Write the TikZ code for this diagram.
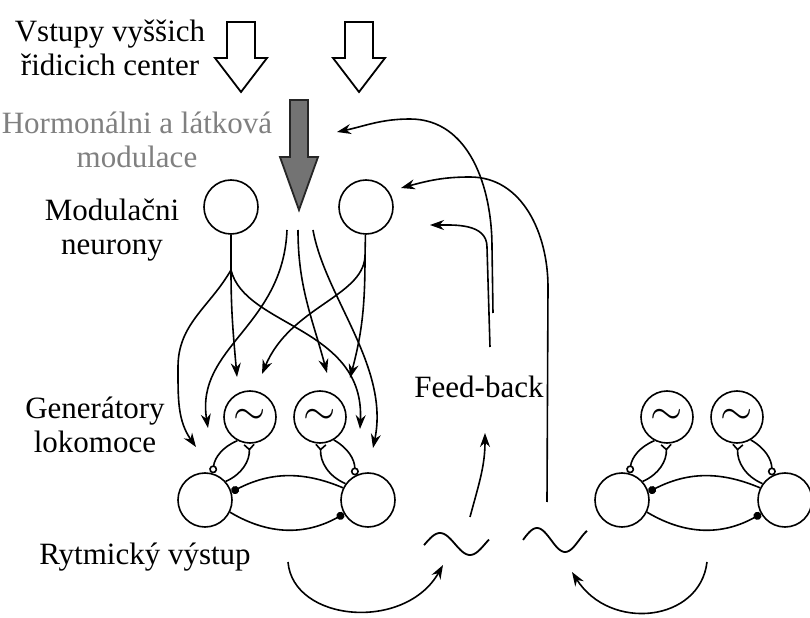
\documentclass[tikz,border=0pt]{standalone}
\usepackage{fontspec}
\setmainfont{Liberation Serif}
\usetikzlibrary{arrows.meta,positioning}

\begin{document}
\begin{tikzpicture}[
    x=0.5pt, y=0.5pt,
    every node/.style={font=\fontsize{15.5}{17}\selectfont},
    txt/.style={align=center, inner sep=0pt},
    neuron/.style={circle, draw, line width=0.8pt, minimum size=27pt, inner sep=0pt},
    osc/.style={circle, draw, line width=0.8pt, minimum size=26pt, inner sep=0pt,
      font=\fontsize{20}{20}\selectfont},
    input/.style={draw, line width=0.9pt, fill=white},
    hormone/.style={draw=black!85, line width=0.9pt, fill=black!55},
    arrow/.style={-{Stealth[length=7pt,width=5pt]}, line width=0.8pt},
    link/.style={line width=0.8pt},
    excit/.style={link, -{Straight Barb[reversed,length=2.5pt,width=5pt]}},
    inhib/.style={link, -{Circle[open,length=4pt]}},
    block/.style={link, -{Circle[length=4pt]}},
    wave/.style={line width=0.9pt, samples=40, smooth}
]
\useasboundingbox[fill=white] (0,0) rectangle (810,617);

% Labels
\node[txt] (inputs) at (110,569) {Vstupy vyššich\\řidicich center};
\node[txt, text=black!50] (hormones) at (137,477) {Hormonálni a látková\\modulace};
\node[txt] (modlabel) at (112,387) {Modulačni\\neurony};
\node[txt] (genlabel) at (95,192) {Generátory\\lokomoce};
\node[txt] (outlabel) at (145,60) {Rytmický výstup};
\node[txt] (fb) at (479,230) {Feed-back};

% Inputs from higher centres
\foreach \cx in {241,359}
  \draw[input] (\cx-14,595) -- (\cx+14,595) -- (\cx+14,559) -- (\cx+26,559)
    -- (\cx,525) -- (\cx-26,559) -- (\cx-14,559) -- cycle;

% Hormonal modulation
\draw[hormone] (290,517) -- (308,517) -- (308,460) -- (318,460) -- (299,407)
  -- (280,460) -- (290,460) -- cycle;

% Modulatory neurons
\node[neuron] (modL) at (231,410) {};
\node[neuron] (modR) at (366,410) {};

% Generators
\foreach \dx/\g in {0/A, 417/B} {
  \begin{scope}[shift={(\dx,0)}]
    \node[osc] (osc\g1) at (250,200) {$\sim$};
    \node[osc] (osc\g2) at (320,200) {$\sim$};
    \node[neuron] (cell\g1) at (205,117) {};
    \node[neuron] (cell\g2) at (368,117) {};
    \draw[inhib] (osc\g1.242) to[bend right=30] (cell\g1.74);
    \draw[excit] (cell\g1.42) to[bend right=35] (osc\g1.268);
    \draw[excit] (cell\g2.144) to[bend left=35] (osc\g2.272);
    \draw[inhib] (osc\g2.301) to[bend left=30] (cell\g2.118);
    \draw[block] (cell\g2.154) to[bend right=25] (cell\g1.17);
    \draw[block] (cell\g1.334) to[bend right=30] (cell\g2.210);
  \end{scope}
}

% Modulation pathways
\coordinate (stemL) at (231,347);
\coordinate (stemR) at (365,360);
\coordinate (g1) at (287,387);
\coordinate (g2) at (298,387);
\coordinate (g3) at (313,387);
\coordinate (endLa) at (196,170);
\coordinate (endLb) at (208,189);
\coordinate (endLc) at (237,240);
\coordinate (endLd) at (262,243);
\coordinate (endRd) at (327,244);
\coordinate (endRc) at (350,239);
\coordinate (endRb) at (360,188);
\coordinate (endRa) at (373,169);

\draw[link] (modL) -- (stemL);
\draw[link] (modR) -- (stemR);
\draw[arrow] (stemL) to[out=-90,in=95] (endLc);
\draw[arrow] (stemL) to[out=240,in=90] (178,250) to[out=-90,in=125] (endLa);
\draw[arrow] (stemL) .. controls (245,290) and (365,290) .. (endRb);
\draw[arrow] (stemR) .. controls (362,320) and (290,310) .. (endLd);
\draw[arrow] (stemR) to[out=-90,in=75] (endRc);
\draw[arrow] (g1) .. controls (283,290) and (195,270) .. (endLb);
\draw[arrow] (g2) to[out=-90,in=105] (endRd);
\draw[arrow] (g3) .. controls (325,320) and (390,250) .. (endRa);

% Rhythmic output
\draw[wave] plot[domain=424:489] (\x, {73+11*cos(6*(\x-440))});
\draw[wave] plot[domain=523:587] (\x, {77+12*cos(6.4*(\x-537))});

\coordinate (outA) at (288,55);
\coordinate (outB) at (707,55);
\coordinate (waveAin) at (443,52);
\coordinate (waveBin) at (572,45);
\draw[arrow] (outA) .. controls (293,-5) and (405,-15) .. (waveAin);
\draw[arrow] (outB) .. controls (700,-5) and (610,-15) .. (waveBin);

% Feed-back
\coordinate (waveAup) at (470,100);
\coordinate (waveBup) at (547,115);
\coordinate (fbtip) at (485,184);
\coordinate (fbA) at (490,270);
\coordinate (fbB) at (493,304);
\coordinate (toMid) at (430,392);
\coordinate (toHorm) at (337,485);
\coordinate (toModR) at (401,429);

\draw[arrow] (waveAup) to[out=75,in=-90] (fbtip);
\draw[arrow] (fbA) -- (487,370) to[out=90,in=0] (toMid);
\draw[arrow] (fbB) -- (492,370) to[out=90,in=0] (410,498) to[out=180,in=12] (toHorm);
\draw[arrow] (waveBup) -- (548,330) to[out=90,in=0] (470,440) to[out=180,in=15] (toModR);

\end{tikzpicture}
\end{document}
